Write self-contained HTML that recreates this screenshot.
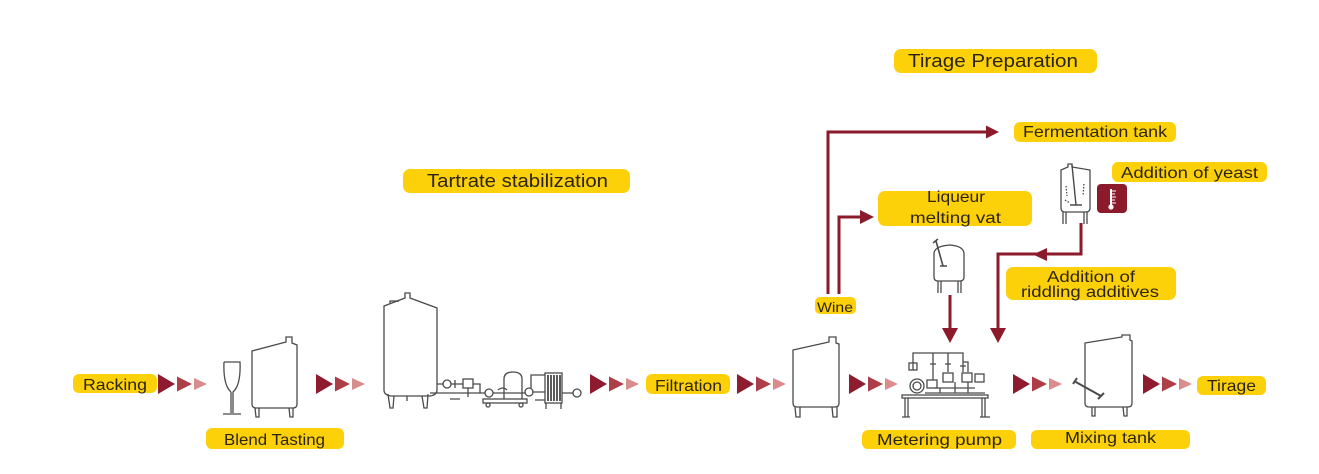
<!DOCTYPE html>
<html><head><meta charset="utf-8"><style>
html,body{margin:0;padding:0;background:#fff;}
svg{display:block;}
text{font-family:"Liberation Sans",sans-serif;fill:#2b2414;}
</style></head><body>
<svg width="1319" height="474" viewBox="0 0 1319 474" xmlns="http://www.w3.org/2000/svg">
<defs>
<g id="chev">
<polygon points="0,-10 17,0 0,10" fill="#8E1B2E"/>
<polygon points="19,-7.5 34,0 19,7.5" fill="#AD3E47"/>
<polygon points="36,-6 49,0 36,6" fill="#D98C8C"/>
</g>
</defs>

<!-- yellow pills -->
<g fill="#FDD10A">
<rect x="894" y="49" width="203" height="24" rx="7"/>
<rect x="403" y="169" width="227" height="24" rx="7"/>
<rect x="73" y="374" width="84" height="19" rx="6"/>
<rect x="206" y="428" width="138" height="21" rx="6"/>
<rect x="646" y="374" width="84" height="20" rx="6"/>
<rect x="815" y="297" width="41" height="17" rx="5"/>
<rect x="1014" y="122" width="162" height="20" rx="6"/>
<rect x="878" y="191" width="154" height="35" rx="7"/>
<rect x="1112" y="162" width="155" height="20" rx="6"/>
<rect x="1006" y="267" width="170" height="33" rx="7"/>
<rect x="862" y="430" width="154" height="19" rx="6"/>
<rect x="1031" y="430" width="159" height="19" rx="6"/>
<rect x="1197" y="376" width="69" height="19" rx="6"/>
</g>

<!-- labels -->
<text x="908" y="67" font-size="18" textLength="170" lengthAdjust="spacingAndGlyphs">Tirage Preparation</text>
<text x="427" y="187" font-size="18" textLength="181" lengthAdjust="spacingAndGlyphs">Tartrate stabilization</text>
<text x="83" y="390" font-size="16" textLength="64" lengthAdjust="spacingAndGlyphs">Racking</text>
<text x="224" y="445" font-size="16" textLength="101" lengthAdjust="spacingAndGlyphs">Blend Tasting</text>
<text x="655" y="391" font-size="16" textLength="67" lengthAdjust="spacingAndGlyphs">Filtration</text>
<text x="817" y="312" font-size="14" textLength="36" lengthAdjust="spacingAndGlyphs">Wine</text>
<text x="1023" y="137" font-size="16" textLength="144" lengthAdjust="spacingAndGlyphs">Fermentation tank</text>
<text x="927" y="202" font-size="16" textLength="58" lengthAdjust="spacingAndGlyphs">Liqueur</text>
<text x="910" y="223" font-size="16" textLength="91" lengthAdjust="spacingAndGlyphs">melting vat</text>
<text x="1121" y="178" font-size="16" textLength="137" lengthAdjust="spacingAndGlyphs">Addition of yeast</text>
<text x="1047" y="282" font-size="16" textLength="88" lengthAdjust="spacingAndGlyphs">Addition of</text>
<text x="1021" y="297" font-size="16" textLength="138" lengthAdjust="spacingAndGlyphs">riddling additives</text>
<text x="877" y="445" font-size="16" textLength="125" lengthAdjust="spacingAndGlyphs">Metering pump</text>
<text x="1065" y="443" font-size="16" textLength="91" lengthAdjust="spacingAndGlyphs">Mixing tank</text>
<text x="1207" y="391" font-size="16" textLength="49" lengthAdjust="spacingAndGlyphs">Tirage</text>

<!-- chevron arrows -->
<use href="#chev" x="158" y="384"/>
<use href="#chev" x="316" y="384"/>
<use href="#chev" x="590" y="384"/>
<use href="#chev" x="737" y="384"/>
<use href="#chev" x="849" y="384"/>
<use href="#chev" x="1013" y="384"/>
<use href="#chev" x="1143" y="384"/>

<!-- red connectors -->
<g stroke="#8B1A2B" stroke-width="3" fill="none" stroke-linejoin="miter">
<polyline points="828,294 828,132 988,132"/>
<polyline points="839,294 839,217 862,217"/>
<polyline points="1081,223 1081,254 998,254 998,330"/>
<line x1="950" y1="295" x2="950" y2="330"/>
</g>
<g fill="#8B1A2B">
<polygon points="986,125.5 999,132 986,138.5"/>
<polygon points="860,210 874,217 860,224"/>
<polygon points="1047,248 1033,254.5 1047,261"/>
<polygon points="942,328 950,343 958,328"/>
<polygon points="990,328 998,343 1006,328"/>
<rect x="1097" y="184" width="30" height="29" rx="4"/>
</g>
<!-- thermometer -->
<g stroke="#fff" stroke-width="2" fill="#fff">
<line x1="1111" y1="189" x2="1111" y2="205"/>
<circle cx="1111" cy="207" r="2.6" stroke="none"/>
</g>
<g stroke="#fff" stroke-width="1">
<line x1="1112" y1="191" x2="1116" y2="191"/>
<line x1="1112" y1="194" x2="1115" y2="194"/>
<line x1="1112" y1="197" x2="1116" y2="197"/>
<line x1="1112" y1="200" x2="1115" y2="200"/>
<line x1="1112" y1="203" x2="1116" y2="203"/>
</g>

<!-- equipment drawings -->
<g stroke="#4a4a4a" stroke-width="1.3" fill="none">
<!-- champagne glass -->
<path d="M224,362 L240,362 Q241,385 233,392 L233,413 M231,392 Q223,385 224,362 M231,392 L231,413 M223,414 L241,414"/>
<!-- tank 1 -->
<path d="M252,351 L286,342 L286,337 L292,337 L292,343 L297,345 L297,404 Q297,408 293,408 L256,408 Q252,408 252,404 Z"/>
<path d="M255,408 L256,417 L259,417 L259,408 M289,408 L290,417 L293,417 L293,408"/>
<!-- big tank -->
<path d="M384,306 L405,298 L405,293 L410,293 L410,298 L437,308 L437,390 Q437,395 430,396 L391,396 Q384,395 384,390 Z"/>
<path d="M390,303 L390,301 L398,301 L398,302"/>
<path d="M388,394 L390,408 L393,408 L394,396 M422,396 L424,408 L427,408 L428,394 M407,396 L407,401"/>
<!-- pipework -->
<path d="M437,384 L443,384 M451,384 L463,384 M473,384 L480,384 L480,393 M430,393 L485,393 M493,393 L525,393 M533,392 L545,392 M562,393 L573,393"/>
<circle cx="447" cy="384" r="4"/>
<rect x="463" y="379" width="10" height="9"/>
<path d="M468,388 L468,397 M455,380 L455,388 M450,399 L460,399"/>
<circle cx="489" cy="393" r="4"/>
<path d="M504,399 L504,379 Q504,372 513,372 Q522,372 522,379 L522,399"/>
<rect x="483" y="399" width="44" height="4"/>
<circle cx="488" cy="405" r="2"/><circle cx="521" cy="405" r="2"/>
<circle cx="529" cy="392" r="4"/>
<path d="M531,388 L531,375 L545,375 M535,400 L545,400 M498,390 Q503,386 507,390"/>
<rect x="545" y="373" width="17" height="30"/>
<path d="M548,375 L548,401 M551,375 L551,401 M554,375 L554,401 M557,375 L557,401 M560,375 L560,401" stroke="#333" stroke-width="1.6"/>
<path d="M546,403 L546,409 M561,403 L561,409"/>
<circle cx="577" cy="393" r="4"/>
<!-- tank 3 -->
<path d="M793,350 L829,342 L829,337 L836,337 L836,343 L839,344 L839,403 Q839,407 835,407 L797,407 Q793,407 793,403 Z"/>
<path d="M795,407 L796,417 L800,417 L800,407 M832,407 L833,417 L837,417 L837,407"/>
<!-- metering pump -->
<rect x="902" y="395" width="86" height="3"/>
<path d="M905,398 L905,417 M908,398 L908,417 M982,398 L982,417 M985,398 L985,417 M902,417 L910,417 M980,417 L990,417"/>
<path d="M913,370 L913,353 L963,353 L963,362 L968,362 L968,372 M933,353 L933,380 M948,353 L948,372 M963,362 L963,372"/>
<rect x="909" y="363" width="8" height="7"/>
<circle cx="917" cy="386" r="7"/>
<circle cx="917" cy="386" r="4"/>
<rect x="927" y="380" width="10" height="8"/>
<rect x="943" y="373" width="10" height="9"/>
<rect x="962" y="373" width="10" height="9"/>
<rect x="975" y="374" width="9" height="8"/>
<path d="M925,393 L985,393 M935,388 L975,388 M940,388 L940,393 M955,382 L955,393 M968,382 L968,393"/>
<path d="M930,364 L936,364 M945,364 L951,364 M960,366 L966,366"/>
<!-- mixing tank -->
<path d="M1085,343 L1122,337 L1122,335 L1130,335 L1130,340 L1132,341 L1132,403 Q1132,407 1128,407 L1089,407 Q1085,407 1085,403 Z"/>
<path d="M1092,407 L1092,416 L1095,416 L1095,407 M1123,407 L1124,416 L1127,416 L1127,407"/>
<path d="M1074,381 L1101,396 M1073,384 L1077,378 M1098,399 L1104,393" stroke-width="2"/>
<!-- liqueur vat -->
<path d="M934,253 Q935,246 950,245 Q963,246 964,253 L964,277 Q964,281 960,281 L938,281 Q934,281 934,277 Z"/>
<path d="M936,241 L943,266 M940,266 L947,266 M933,243 L938,239" stroke-width="1.6"/>
<path d="M938,281 L938,293 M941,281 L941,293 M958,281 L958,293 M961,281 L961,293"/>
<!-- yeast tank -->
<path d="M1061,170 L1068,167 L1068,164 L1072,164 L1072,167 L1090,170 L1090,208 Q1090,212 1086,212 L1065,212 Q1061,212 1061,208 Z"/>
<path d="M1072,165 L1076,205 M1070,205 L1082,205" stroke-width="1.4"/>
<path d="M1066,186 L1067,196 M1084,184 L1083,196 M1065,200 L1070,203" stroke-dasharray="1.5,1.5"/>
<path d="M1063,212 L1063,224 M1066,212 L1066,224 M1084,212 L1084,224 M1087,212 L1087,224"/>
</g>
</svg>
</body></html>
